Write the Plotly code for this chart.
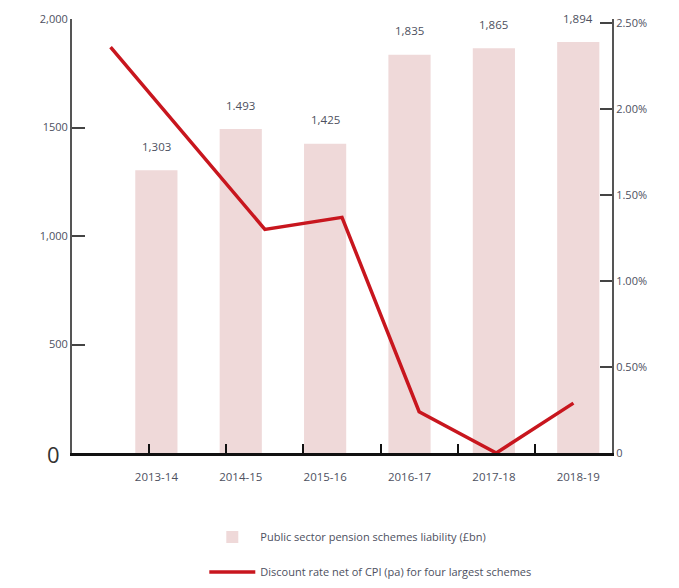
import plotly.graph_objects as go

# ---- data ----
periods = ["2013-14", "2014-15", "2015-16", "2016-17", "2017-18", "2018-19"]
liability_bn = [1303, 1493, 1425, 1835, 1865, 1894]
liability_labels = ["1,303", "1.493", "1,425", "1,835", "1,865", "1,894"]
discount_rate_pct = [2.36, 1.30, 1.37, 0.24, 0.0, 0.29]

left_tickvals = [0, 500, 1000, 1500, 2000]
left_ticktext = ["0", "500", "1,000", "1500", "2,000"]
right_tickvals = [0, 0.5, 1.0, 1.5, 2.0, 2.5]
right_ticktext = ["0", "0.50%", "1.00%", "1.50%", "2.00%", "2.50%"]

bar_name = "Public sector pension schemes liability (£bn)"
line_name = "Discount rate net of CPI (pa) for four largest schemes"

# line is drawn on a 7-slot grid (one empty slot after the first point)
line_slots = [periods[0], " "] + periods[1:]

FONT = "Open Sans"
TXT = "#4d5060"
BAR = "#efd9d9"
RED = "#c8161e"

fig = go.Figure()
fig.add_trace(go.Bar(
    x=periods, y=liability_bn, name=bar_name, legendgroup="a",
    marker=dict(color=BAR, line=dict(width=0)),
    xaxis="x", yaxis="y",
))
fig.add_trace(go.Scatter(
    x=periods, y=discount_rate_pct, name=line_name, mode="lines", legendgroup="b",
    line=dict(color=RED, width=3.5),
    xaxis="x2", yaxis="y2",
))

for p, v, t in zip(periods, liability_bn, liability_labels):
    fig.add_annotation(x=p, y=v, xref="x", yref="y", text=t, showarrow=False,
                       yshift=24, font=dict(family=FONT, size=11.5, color=TXT))

fig.update_layout(
    width=671, height=580,
    margin=dict(l=64, r=67, t=11, b=135, autoexpand=False),
    paper_bgcolor="white", plot_bgcolor="white",
    bargap=0.5,
    font=dict(family=FONT, color=TXT, size=11),
    xaxis=dict(
        type="category", categoryorder="array", categoryarray=periods,
        range=[-1.0, 5.4], showgrid=False, zeroline=False, showline=False,
        ticks="", tickfont=dict(size=11.5, color=TXT), ticklabelstandoff=15,
        automargin=False,
    ),
    xaxis2=dict(
        type="category", categoryorder="array", categoryarray=line_slots,
        range=[-0.5, 6.5], overlaying="x", side="bottom", anchor="y",
        showgrid=False, zeroline=False, showline=True, linecolor="#111111",
        linewidth=2.5, ticks="inside", tickson="boundaries", ticklen=9,
        tickwidth=1.5, tickcolor="#111111", showticklabels=False,
        automargin=False,
    ),
    yaxis=dict(
        range=[0, 2000], tickvals=left_tickvals,
        ticktext=[" "] + left_ticktext[1:],
        showgrid=False, zeroline=False, showline=True, linecolor="#555555",
        linewidth=2, ticks="inside", ticklen=13, tickwidth=1.5,
        tickcolor="#444444", tickfont=dict(size=11, color=TXT),
        automargin=False,
    ),
    yaxis2=dict(
        range=[0, 2.523], overlaying="y", side="right", anchor="x",
        tickvals=right_tickvals, ticktext=right_ticktext,
        showgrid=False, zeroline=False, showline=True, linecolor="#555555",
        linewidth=2, ticks="inside", ticklen=12, tickwidth=1.5,
        tickcolor="#444444", tickfont=dict(size=11, color=TXT),
        automargin=False,
    ),
    showlegend=True,
    legend=dict(
        x=0.245, y=-0.16, xanchor="left", yanchor="top",
        orientation="v", tracegroupgap=16, itemwidth=46,
        font=dict(family=FONT, size=11, color=TXT),
        bgcolor="rgba(0,0,0,0)",
    ),
)

# larger "0" on the left axis
fig.add_annotation(x=0, y=0, xref="paper", yref="y", text=left_ticktext[0],
                   showarrow=False, xanchor="right", xshift=-10, yshift=-1,
                   font=dict(family=FONT, size=22, color="#333333"))

fig.write_html("out.html")
